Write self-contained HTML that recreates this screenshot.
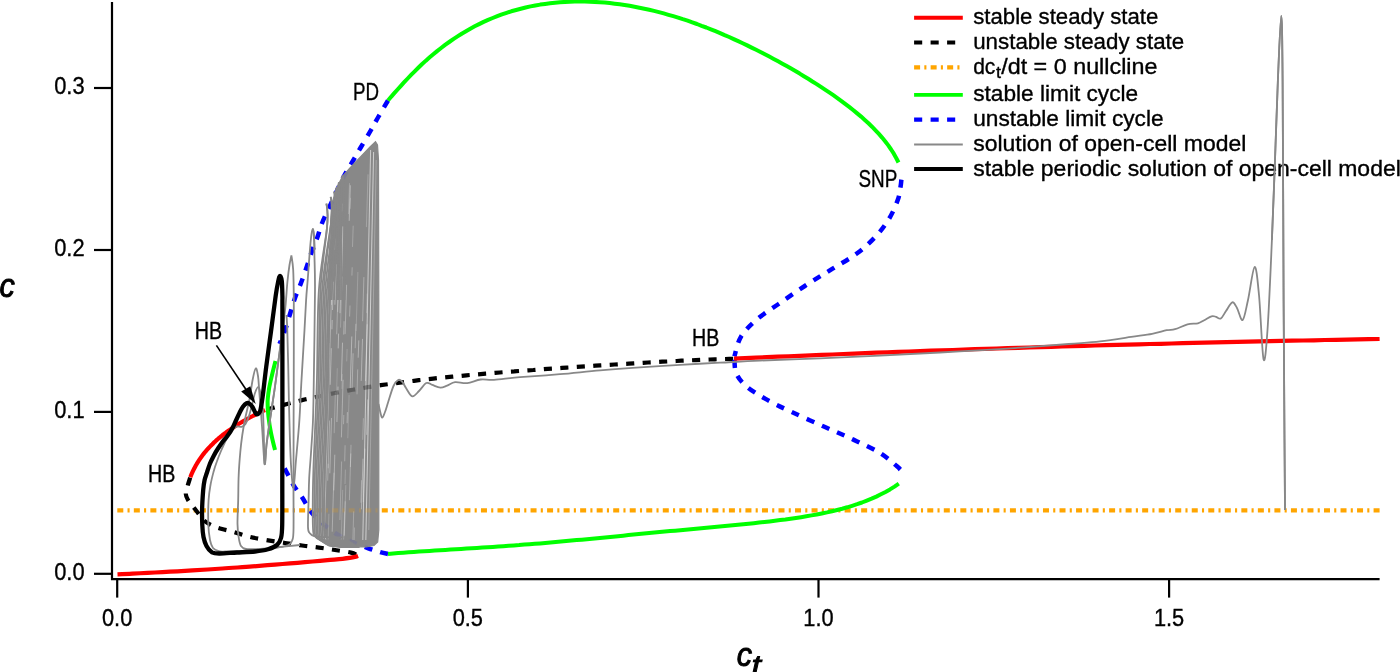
<!DOCTYPE html>
<html><head><meta charset="utf-8"><style>
html,body{margin:0;padding:0;background:#fff;width:1400px;height:672px;overflow:hidden;font-family:"Liberation Sans",sans-serif}
svg{display:block;will-change:transform}
</style></head><body>
<svg width="1400" height="672" viewBox="0 0 1400 672">
<rect width="1400" height="672" fill="#fff"/>
<path d="M117.3,510.4 L1380,510.4" stroke="#ffa500" stroke-width="4.3" fill="none" stroke-dasharray="6.0 4.22 2.1 4.21" stroke-linejoin="round" />
<path d="M190.2,477.6 C189.7,479.2 188.0,484.3 187.3,487.0 C186.6,489.7 185.7,491.8 185.8,494.0 C185.9,496.2 186.8,497.9 188.0,500.0 C189.2,502.1 191.3,504.3 193.0,506.5 C194.7,508.7 196.2,510.7 198.0,513.0 C199.8,515.3 201.7,518.4 204.0,520.5 C206.3,522.6 209.0,524.1 212.0,525.5 C215.0,526.9 218.3,527.9 222.0,529.0 C225.7,530.1 229.4,530.7 234.0,532.0 C238.6,533.3 244.2,535.5 249.5,536.8 C254.8,538.1 260.1,539.0 266.0,540.0 C271.9,541.0 279.0,542.1 285.0,543.0 C291.0,543.9 296.3,544.7 302.0,545.5 C307.7,546.3 313.5,546.9 319.0,547.6 C324.5,548.4 329.7,549.2 335.0,550.0 C340.3,550.8 347.2,551.7 351.0,552.6 C354.8,553.5 356.8,555.0 358.0,555.5" stroke="#000000" stroke-width="4.2" fill="none" stroke-linejoin="round" stroke-dasharray="8.1 8.4"/>
<path d="M264.0,410.5 L268.6,409.1 L273.2,407.8 L277.8,406.5 L282.4,405.2 L287.1,404.0 L291.7,402.8 L296.3,401.6 L301.0,400.4 L305.6,399.3 L310.3,398.3 L315.0,397.2 L319.6,396.2 L324.3,395.2 L329.0,394.2 L333.7,393.3 L338.4,392.4 L343.1,391.5 L347.8,390.6 L352.5,389.8 L357.2,389.0 L361.9,388.2 L366.6,387.4 L371.4,386.6 L376.1,385.9 L380.8,385.2 L385.6,384.5 L390.3,383.9 L395.0,383.2 L399.8,382.6 L404.5,382.0 L409.3,381.4 L414.0,380.8 L418.8,380.2 L423.5,379.7 L428.3,379.1 L433.1,378.6 L437.8,378.1 L442.6,377.6 L447.3,377.1 L452.1,376.7 L456.9,376.2 L461.6,375.8 L466.4,375.3 L471.2,374.9 L476.0,374.5 L480.7,374.1 L485.5,373.6 L490.3,373.3 L495.0,372.9 L499.8,372.5 L504.6,372.1 L509.4,371.7 L514.2,371.4 L518.9,371.0 L523.7,370.6 L528.5,370.3 L533.3,370.0 L538.0,369.6 L542.8,369.3 L547.6,368.9 L552.4,368.6 L557.1,368.3 L561.9,367.9 L566.7,367.6 L571.5,367.3 L576.3,367.0 L581.0,366.7 L585.8,366.4 L590.6,366.1 L595.4,365.7 L600.1,365.4 L604.9,365.1 L609.7,364.8 L614.5,364.5 L619.2,364.2 L624.0,363.9 L628.8,363.7 L633.6,363.4 L638.3,363.1 L643.1,362.8 L647.9,362.5 L652.7,362.3 L657.5,362.0 L662.2,361.7 L667.0,361.5 L671.8,361.2 L676.6,361.0 L681.3,360.7 L686.1,360.5 L690.9,360.3 L695.7,360.1 L700.5,359.9 L705.3,359.7 L710.0,359.5 L714.8,359.3 L719.6,359.2 L724.4,359.0 L729.2,358.9 L734.0,358.8" stroke="#000000" stroke-width="4.2" fill="none" stroke-linejoin="round" stroke-dasharray="8.1 8.4" stroke-dashoffset="-3"/>
<path d="M901.4,179.7 C901.2,180.9 901.1,183.7 900.5,187.0 C899.9,190.3 899.8,194.2 898.0,199.3 C896.2,204.4 893.4,211.3 889.9,217.3 C886.4,223.3 882.3,229.3 876.8,235.3 C871.3,241.3 864.7,247.6 857.1,253.3 C849.5,259.0 839.7,264.2 831.0,269.7 C822.3,275.1 813.5,280.3 804.8,286.0 C796.1,291.7 786.8,298.3 778.6,304.0 C770.4,309.7 762.0,314.9 755.7,320.4 C749.4,325.9 744.5,330.8 740.9,336.8 C737.3,342.8 735.5,353.1 734.4,356.4" stroke="#0000ff" stroke-width="4.5" fill="none" stroke-linejoin="round" stroke-dasharray="8.1 8.4"/>
<path d="M900.3,469.6 C899.8,469.1 900.4,469.1 897.0,466.3 C893.6,463.5 887.2,457.4 880.0,453.0 C872.8,448.6 863.2,444.3 853.9,439.9 C844.6,435.5 834.8,431.4 824.4,426.8 C814.0,422.2 801.5,416.6 791.7,412.0 C781.9,407.4 773.1,403.3 765.5,398.9 C757.9,394.5 750.7,390.2 745.8,385.8 C740.9,381.4 737.9,377.6 736.0,372.7 C734.1,367.8 734.7,359.1 734.4,356.4" stroke="#0000ff" stroke-width="4.5" fill="none" stroke-linejoin="round" stroke-dasharray="8.1 8.4"/>
<path d="M388.0,100.5 C386.3,103.3 380.8,112.6 378.0,117.5 C375.2,122.4 373.9,124.9 371.0,130.0 C368.1,135.1 363.5,142.7 360.4,148.0 C357.3,153.3 355.0,157.4 352.3,162.0 C349.6,166.6 347.2,170.0 344.3,175.5 C341.4,181.0 338.6,187.2 335.0,195.0 C331.4,202.8 325.4,215.0 322.5,222.0 C319.6,229.0 319.3,231.9 317.5,237.0 C315.7,242.1 313.4,247.2 311.5,252.5 C309.6,257.8 307.8,263.9 306.0,269.0 C304.2,274.1 302.8,278.2 301.0,283.0 C299.2,287.8 296.8,292.8 295.0,298.0 C293.2,303.2 291.7,308.6 290.0,314.0 C288.3,319.4 286.8,325.5 285.0,330.5 C283.2,335.5 280.4,341.8 279.5,344.0" stroke="#0000ff" stroke-width="4.5" fill="none" stroke-linejoin="round" stroke-dasharray="8.1 8.4"/>
<path d="M388.0,554.0 C386.7,553.7 383.3,553.0 380.0,552.0 C376.7,551.0 373.3,550.1 368.3,548.3 C363.3,546.5 355.6,543.5 350.0,541.0 C344.4,538.5 339.6,536.0 335.0,533.0 C330.4,530.0 326.5,526.8 322.5,523.3 C318.5,519.8 314.3,516.1 311.0,511.9 C307.7,507.7 305.6,502.8 302.7,498.3 C299.8,493.8 296.2,489.7 293.3,484.8 C290.4,479.9 287.1,473.0 285.0,469.0 C282.9,465.0 281.7,462.3 281.0,461.0" stroke="#0000ff" stroke-width="4.5" fill="none" stroke-linejoin="round" stroke-dasharray="8.1 8.4"/>
<path d="M117.5,574.3 C120.0,574.2 127.5,573.9 132.5,573.6 C137.5,573.4 142.5,573.1 147.5,572.9 C152.5,572.6 157.5,572.4 162.5,572.1 C167.5,571.8 172.5,571.6 177.5,571.3 C182.5,571.0 187.5,570.7 192.5,570.4 C197.5,570.1 202.5,569.8 207.5,569.5 C212.5,569.2 217.5,568.8 222.5,568.5 C227.5,568.1 232.5,567.8 237.5,567.5 C242.5,567.1 247.5,566.7 252.5,566.4 C257.5,566.0 262.5,565.6 267.5,565.2 C272.5,564.8 277.5,564.4 282.5,564.0 C287.5,563.6 292.5,563.2 297.5,562.8 C302.5,562.4 307.5,561.9 312.5,561.5 C317.5,561.1 322.5,560.6 327.5,560.2 C332.5,559.7 337.9,559.3 342.5,558.8 C347.1,558.2 352.4,557.4 355.0,556.9 C357.6,556.4 357.5,556.0 358.0,555.8" stroke="#ff0000" stroke-width="4.2" fill="none" stroke-linejoin="round"/>
<path d="M190.3,477.2 L191.1,475.2 L192.0,473.2 L192.9,471.2 L193.8,469.3 L194.8,467.4 L195.8,465.6 L196.9,463.7 L198.0,461.9 L199.1,460.2 L200.3,458.4 L201.5,456.7 L202.7,455.1 L204.0,453.4 L205.3,451.8 L206.7,450.2 L208.0,448.7 L209.5,447.1 L210.9,445.6 L212.4,444.2 L213.8,442.7 L215.4,441.3 L216.9,439.9 L218.5,438.5 L220.1,437.2 L221.7,435.8 L223.3,434.5 L225.0,433.3 L226.7,432.0 L228.4,430.8 L230.1,429.6 L231.8,428.4 L233.6,427.2 L235.4,426.0 L237.1,424.9 L238.9,423.8 L240.7,422.7 L242.6,421.6 L244.4,420.6 L246.2,419.5 L248.1,418.5 L249.9,417.5 L251.8,416.5 L253.7,415.5 L255.6,414.6 L257.4,413.6 L259.3,412.7 L261.2,411.8 L263.1,410.9 L265.0,410.0" stroke="#ff0000" stroke-width="4.2" fill="none" stroke-linejoin="round"/>
<path d="M734.0,358.7 L744.9,358.2 L755.9,357.7 L766.8,357.2 L777.7,356.7 L788.7,356.3 L799.6,355.8 L810.6,355.4 L821.5,354.9 L832.4,354.5 L843.4,354.0 L854.3,353.6 L865.3,353.2 L876.2,352.7 L887.1,352.3 L898.1,351.9 L909.0,351.5 L920.0,351.1 L930.9,350.7 L941.8,350.3 L952.8,350.0 L963.7,349.6 L974.7,349.2 L985.6,348.9 L996.5,348.5 L1007.5,348.1 L1018.4,347.8 L1029.4,347.5 L1040.3,347.1 L1051.3,346.8 L1062.2,346.5 L1073.1,346.1 L1084.1,345.8 L1095.0,345.5 L1106.0,345.2 L1116.9,344.9 L1127.9,344.6 L1138.8,344.3 L1149.8,344.0 L1160.7,343.8 L1171.6,343.5 L1182.6,343.2 L1193.5,342.9 L1204.5,342.7 L1215.4,342.4 L1226.4,342.2 L1237.3,341.9 L1248.3,341.7 L1259.2,341.4 L1270.1,341.2 L1281.1,340.9 L1292.0,340.7 L1303.0,340.5 L1313.9,340.3 L1324.9,340.0 L1335.8,339.8 L1346.8,339.6 L1357.7,339.4 L1368.7,339.2 L1379.6,339.0" stroke="#ff0000" stroke-width="4.2" fill="none" stroke-linejoin="round"/>
<path d="M388.0,100.5 L391.1,96.8 L394.3,93.2 L397.6,89.5 L400.9,85.8 L404.2,82.2 L407.7,78.5 L411.1,74.9 L414.7,71.3 L418.3,67.8 L421.9,64.3 L425.6,60.9 L429.4,57.6 L433.3,54.3 L437.1,51.1 L441.1,48.0 L445.1,44.9 L449.2,42.0 L453.3,39.1 L457.5,36.4 L461.7,33.7 L466.0,31.2 L470.3,28.7 L474.7,26.3 L479.1,24.1 L483.6,21.9 L488.1,19.9 L492.7,18.0 L497.3,16.2 L501.9,14.4 L506.6,12.8 L511.3,11.3 L516.1,10.0 L520.8,8.7 L525.6,7.5 L530.5,6.4 L535.3,5.5 L540.2,4.6 L545.1,3.9 L550.0,3.3 L555.0,2.7 L559.9,2.3 L564.9,1.9 L569.9,1.7 L574.8,1.6 L579.8,1.5 L584.8,1.5 L589.8,1.7 L594.8,1.9 L599.8,2.2 L604.8,2.6 L609.7,3.1 L614.7,3.7 L619.7,4.3 L624.6,5.0 L629.6,5.8 L634.5,6.7 L639.4,7.7 L644.3,8.7 L649.2,9.8 L654.0,10.9 L658.9,12.1 L663.7,13.4 L668.5,14.8 L673.3,16.2 L678.1,17.6 L682.8,19.2 L687.6,20.7 L692.3,22.4 L697.0,24.0 L701.6,25.8 L706.3,27.5 L710.9,29.3 L715.5,31.2 L720.1,33.1 L724.6,35.1 L729.2,37.0 L733.7,39.1 L738.2,41.1 L742.7,43.2 L747.2,45.4 L751.6,47.6 L756.1,49.8 L760.5,52.0 L764.9,54.3 L769.3,56.6 L773.7,58.9 L778.1,61.3 L782.4,63.7 L786.7,66.1 L791.1,68.6 L795.4,71.1 L799.7,73.6 L803.9,76.2 L808.2,78.8 L812.4,81.5 L816.7,84.1 L820.9,86.9 L825.0,89.6 L829.2,92.4 L833.3,95.2 L837.4,98.1 L841.5,101.1 L845.5,104.1 L849.5,107.1 L853.4,110.2 L857.2,113.4 L861.1,116.6 L864.8,119.9 L868.5,123.3 L872.0,126.7 L875.5,130.3 L878.9,133.9 L882.1,137.6 L885.3,141.5 L888.3,145.4 L891.1,149.5 L893.8,153.7 L896.2,158.0 L898.5,162.5" stroke="#00ff00" stroke-width="4" fill="none" stroke-linejoin="round"/>
<path d="M388.0,554.0 L393.1,553.5 L398.2,553.1 L403.4,552.7 L408.6,552.3 L413.8,551.9 L419.0,551.5 L424.2,551.2 L429.5,550.9 L434.7,550.5 L440.0,550.2 L445.3,549.9 L450.5,549.6 L455.8,549.3 L461.1,548.9 L466.4,548.6 L471.7,548.3 L476.9,548.0 L482.2,547.6 L487.5,547.3 L492.8,546.9 L498.1,546.6 L503.3,546.2 L508.6,545.8 L513.9,545.4 L519.1,545.1 L524.4,544.6 L529.6,544.2 L534.8,543.8 L540.1,543.4 L545.3,542.9 L550.5,542.5 L555.7,542.0 L560.9,541.6 L566.2,541.1 L571.4,540.6 L576.6,540.1 L581.8,539.7 L586.9,539.2 L592.1,538.7 L597.3,538.2 L602.5,537.7 L607.7,537.2 L612.9,536.7 L618.1,536.2 L623.2,535.7 L628.4,535.1 L633.6,534.6 L638.8,534.1 L644.0,533.6 L649.2,533.1 L654.4,532.6 L659.6,532.1 L664.8,531.6 L670.0,531.1 L675.2,530.7 L680.4,530.2 L685.6,529.7 L690.8,529.2 L696.1,528.7 L701.3,528.2 L706.5,527.7 L711.8,527.2 L717.0,526.8 L722.3,526.3 L727.5,525.8 L732.8,525.3 L738.0,524.8 L743.3,524.2 L748.6,523.7 L753.8,523.2 L759.1,522.6 L764.4,522.0 L769.6,521.4 L774.9,520.8 L780.2,520.1 L785.4,519.5 L790.6,518.7 L795.9,518.0 L801.1,517.2 L806.3,516.3 L811.5,515.4 L816.7,514.5 L821.8,513.5 L827.0,512.4 L832.1,511.2 L837.1,510.0 L842.2,508.7 L847.2,507.3 L852.1,505.8 L857.1,504.2 L862.0,502.5 L866.8,500.6 L871.6,498.7 L876.3,496.6 L880.9,494.3 L885.5,491.9 L890.0,489.4 L894.5,486.6 L898.8,483.7" stroke="#00ff00" stroke-width="4" fill="none" stroke-linejoin="round"/>
<path d="M275.5,361.0 C274.9,363.3 273.1,370.3 272.0,375.0 C270.9,379.7 269.7,384.5 269.0,389.0 C268.3,393.5 267.7,397.3 267.6,402.0 C267.5,406.7 267.9,411.8 268.5,417.0 C269.1,422.2 269.9,427.5 271.0,433.0 C272.1,438.5 274.3,447.2 275.0,450.0" stroke="#00ff00" stroke-width="4" fill="none" stroke-linejoin="round"/>
<path d="M336.6,187.9 L342.5,176.4 L350.0,168.0 L360.0,157.5 L370.0,147.0 L375.5,141.6 L377.5,145.0 L378.5,160.0 L378.8,300.0 L378.8,530.0 L377.7,542.0 L374.0,545.5 L366.0,547.0 L350.0,546.8 L338.0,546.3 L330.0,544.0 L326.0,538.0 L324.2,530.0 L324.0,500.0 L324.5,470.0 L325.2,430.0 L326.0,380.0 L327.5,330.0 L328.5,290.0 L330.0,240.0 L331.5,205.0 Z" fill="#888888" stroke="#888888" stroke-width="1.2"/>
<line x1="370.6" y1="150" x2="362.8" y2="540" stroke="#d8d8d8" stroke-width="1" opacity="0.85"/><line x1="373.6" y1="152" x2="365.84000000000003" y2="540" stroke="#d8d8d8" stroke-width="1" opacity="0.9"/><line x1="376.2" y1="160" x2="368.8" y2="530" stroke="#d8d8d8" stroke-width="1" opacity="0.35"/><line x1="320.4" y1="300" x2="313.7" y2="525" stroke="#ffffff" stroke-width="0.8" opacity="0.45"/><line x1="323.2" y1="300" x2="316.5" y2="525" stroke="#ffffff" stroke-width="0.8" opacity="0.45"/><line x1="325.9" y1="300" x2="319.2" y2="525" stroke="#ffffff" stroke-width="0.8" opacity="0.45"/><line x1="328.7" y1="300" x2="322.0" y2="525" stroke="#ffffff" stroke-width="0.8" opacity="0.45"/><line x1="331.3" y1="300" x2="324.6" y2="525" stroke="#ffffff" stroke-width="0.8" opacity="0.45"/><line x1="341.3" y1="238.6" x2="340.0" y2="280.4" stroke="#e0e0e0" stroke-width="0.9" opacity="0.28"/><line x1="350.0" y1="305.5" x2="349.6" y2="316.5" stroke="#e0e0e0" stroke-width="0.9" opacity="0.43"/><line x1="329.5" y1="343.1" x2="329.2" y2="354.7" stroke="#e0e0e0" stroke-width="0.9" opacity="0.28"/><line x1="345.4" y1="469.6" x2="345.0" y2="484.0" stroke="#e0e0e0" stroke-width="0.9" opacity="0.33"/><line x1="353.7" y1="511.3" x2="352.9" y2="540.0" stroke="#e0e0e0" stroke-width="0.9" opacity="0.39"/><line x1="368.0" y1="174.4" x2="366.4" y2="227.1" stroke="#e0e0e0" stroke-width="0.9" opacity="0.35"/><line x1="333.9" y1="238.9" x2="333.2" y2="262.9" stroke="#e0e0e0" stroke-width="0.9" opacity="0.54"/><line x1="335.4" y1="391.9" x2="334.2" y2="433.2" stroke="#e0e0e0" stroke-width="0.9" opacity="0.38"/><line x1="350.5" y1="197.8" x2="350.1" y2="208.9" stroke="#e0e0e0" stroke-width="0.9" opacity="0.32"/><line x1="355.9" y1="323.8" x2="355.2" y2="348.2" stroke="#e0e0e0" stroke-width="0.9" opacity="0.45"/><line x1="346.6" y1="284.8" x2="345.1" y2="334.1" stroke="#e0e0e0" stroke-width="0.9" opacity="0.49"/><line x1="338.0" y1="386.6" x2="336.9" y2="422.0" stroke="#e0e0e0" stroke-width="0.9" opacity="0.56"/><line x1="357.9" y1="272.0" x2="356.1" y2="331.0" stroke="#e0e0e0" stroke-width="0.9" opacity="0.29"/><line x1="345.1" y1="445.3" x2="344.7" y2="461.3" stroke="#e0e0e0" stroke-width="0.9" opacity="0.42"/><line x1="329.6" y1="420.5" x2="328.2" y2="468.3" stroke="#e0e0e0" stroke-width="0.9" opacity="0.45"/><line x1="363.9" y1="277.1" x2="362.6" y2="321.2" stroke="#e0e0e0" stroke-width="0.9" opacity="0.46"/><line x1="351.8" y1="336.5" x2="350.2" y2="388.2" stroke="#e0e0e0" stroke-width="0.9" opacity="0.58"/><line x1="347.4" y1="412.1" x2="347.1" y2="423.2" stroke="#e0e0e0" stroke-width="0.9" opacity="0.50"/><line x1="354.5" y1="527.5" x2="354.2" y2="540.0" stroke="#e0e0e0" stroke-width="0.9" opacity="0.35"/><line x1="343.8" y1="415.0" x2="343.5" y2="424.2" stroke="#e0e0e0" stroke-width="0.9" opacity="0.41"/><line x1="334.9" y1="238.6" x2="334.6" y2="249.7" stroke="#e0e0e0" stroke-width="0.9" opacity="0.52"/><line x1="333.3" y1="281.7" x2="332.5" y2="310.0" stroke="#e0e0e0" stroke-width="0.9" opacity="0.55"/><line x1="331.3" y1="348.2" x2="330.2" y2="384.8" stroke="#e0e0e0" stroke-width="0.9" opacity="0.56"/><line x1="361.6" y1="480.2" x2="360.9" y2="502.7" stroke="#e0e0e0" stroke-width="0.9" opacity="0.40"/><line x1="342.7" y1="489.9" x2="341.2" y2="540.0" stroke="#e0e0e0" stroke-width="0.9" opacity="0.30"/><line x1="335.2" y1="276.5" x2="334.6" y2="296.7" stroke="#e0e0e0" stroke-width="0.9" opacity="0.42"/><line x1="352.2" y1="267.3" x2="351.9" y2="275.6" stroke="#e0e0e0" stroke-width="0.9" opacity="0.40"/><line x1="343.1" y1="379.8" x2="341.4" y2="437.4" stroke="#e0e0e0" stroke-width="0.9" opacity="0.49"/><line x1="349.1" y1="395.0" x2="347.8" y2="438.2" stroke="#e0e0e0" stroke-width="0.9" opacity="0.27"/><line x1="364.9" y1="448.7" x2="363.3" y2="502.1" stroke="#e0e0e0" stroke-width="0.9" opacity="0.53"/><line x1="344.1" y1="321.2" x2="343.7" y2="334.6" stroke="#e0e0e0" stroke-width="0.9" opacity="0.47"/><line x1="330.6" y1="222.2" x2="330.0" y2="241.1" stroke="#e0e0e0" stroke-width="0.9" opacity="0.31"/><line x1="341.9" y1="203.6" x2="341.7" y2="211.6" stroke="#e0e0e0" stroke-width="0.9" opacity="0.30"/><line x1="332.2" y1="320.0" x2="331.9" y2="329.3" stroke="#e0e0e0" stroke-width="0.9" opacity="0.56"/><line x1="353.2" y1="225.7" x2="352.5" y2="246.9" stroke="#e0e0e0" stroke-width="0.9" opacity="0.37"/><line x1="342.9" y1="226.4" x2="341.4" y2="278.6" stroke="#e0e0e0" stroke-width="0.9" opacity="0.60"/><line x1="347.1" y1="349.0" x2="346.7" y2="361.4" stroke="#e0e0e0" stroke-width="0.9" opacity="0.29"/><line x1="342.0" y1="276.5" x2="340.5" y2="327.6" stroke="#e0e0e0" stroke-width="0.9" opacity="0.31"/><line x1="328.9" y1="513.8" x2="328.2" y2="540.0" stroke="#e0e0e0" stroke-width="0.9" opacity="0.30"/><line x1="350.3" y1="185.3" x2="349.2" y2="220.8" stroke="#e0e0e0" stroke-width="0.9" opacity="0.59"/><line x1="363.4" y1="418.2" x2="362.7" y2="439.8" stroke="#e0e0e0" stroke-width="0.9" opacity="0.38"/><line x1="334.8" y1="454.7" x2="333.8" y2="490.4" stroke="#e0e0e0" stroke-width="0.9" opacity="0.52"/><line x1="341.5" y1="263.0" x2="340.0" y2="313.2" stroke="#e0e0e0" stroke-width="0.9" opacity="0.59"/><line x1="363.0" y1="458.7" x2="361.4" y2="509.3" stroke="#e0e0e0" stroke-width="0.9" opacity="0.51"/><line x1="337.3" y1="368.2" x2="336.5" y2="394.7" stroke="#e0e0e0" stroke-width="0.9" opacity="0.26"/><line x1="329.1" y1="292.2" x2="328.5" y2="313.7" stroke="#e0e0e0" stroke-width="0.9" opacity="0.49"/><line x1="367.2" y1="324.3" x2="365.5" y2="381.1" stroke="#e0e0e0" stroke-width="0.9" opacity="0.60"/><line x1="367.2" y1="293.6" x2="366.6" y2="313.1" stroke="#e0e0e0" stroke-width="0.9" opacity="0.33"/><line x1="336.1" y1="264.3" x2="334.9" y2="304.7" stroke="#e0e0e0" stroke-width="0.9" opacity="0.57"/><line x1="362.5" y1="338.9" x2="361.2" y2="380.9" stroke="#e0e0e0" stroke-width="0.9" opacity="0.53"/><line x1="331.5" y1="418.0" x2="329.8" y2="473.3" stroke="#e0e0e0" stroke-width="0.9" opacity="0.52"/><line x1="358.8" y1="340.4" x2="358.2" y2="357.7" stroke="#e0e0e0" stroke-width="0.9" opacity="0.53"/><line x1="341.6" y1="461.5" x2="339.9" y2="520.0" stroke="#e0e0e0" stroke-width="0.9" opacity="0.39"/><line x1="344.5" y1="511.5" x2="343.6" y2="540.0" stroke="#e0e0e0" stroke-width="0.9" opacity="0.31"/><line x1="333.2" y1="249.9" x2="331.6" y2="304.9" stroke="#e0e0e0" stroke-width="0.9" opacity="0.53"/><line x1="334.0" y1="472.7" x2="332.2" y2="531.7" stroke="#e0e0e0" stroke-width="0.9" opacity="0.48"/><line x1="342.4" y1="374.1" x2="341.9" y2="388.9" stroke="#e0e0e0" stroke-width="0.9" opacity="0.25"/><line x1="367.8" y1="399.4" x2="366.7" y2="434.8" stroke="#e0e0e0" stroke-width="0.9" opacity="0.58"/><line x1="345.8" y1="485.2" x2="344.3" y2="536.2" stroke="#e0e0e0" stroke-width="0.9" opacity="0.32"/><line x1="338.3" y1="291.4" x2="337.7" y2="311.9" stroke="#e0e0e0" stroke-width="0.9" opacity="0.46"/><line x1="338.6" y1="333.6" x2="338.2" y2="348.4" stroke="#e0e0e0" stroke-width="0.9" opacity="0.57"/><line x1="342.5" y1="342.7" x2="341.4" y2="381.1" stroke="#e0e0e0" stroke-width="0.9" opacity="0.57"/><line x1="345.2" y1="501.3" x2="344.2" y2="535.4" stroke="#e0e0e0" stroke-width="0.9" opacity="0.44"/><line x1="349.5" y1="183.2" x2="348.5" y2="214.1" stroke="#e0e0e0" stroke-width="0.9" opacity="0.31"/><line x1="328.2" y1="463.7" x2="327.7" y2="480.7" stroke="#e0e0e0" stroke-width="0.9" opacity="0.42"/><line x1="357.7" y1="369.4" x2="357.0" y2="394.3" stroke="#e0e0e0" stroke-width="0.9" opacity="0.43"/><line x1="350.8" y1="453.5" x2="350.4" y2="467.0" stroke="#e0e0e0" stroke-width="0.9" opacity="0.45"/><line x1="338.2" y1="286.2" x2="336.7" y2="334.3" stroke="#e0e0e0" stroke-width="0.9" opacity="0.43"/><line x1="351.0" y1="444.8" x2="349.4" y2="500.2" stroke="#e0e0e0" stroke-width="0.9" opacity="0.41"/><line x1="353.1" y1="353.3" x2="352.1" y2="388.0" stroke="#e0e0e0" stroke-width="0.9" opacity="0.49"/>
<clipPath id="bc"><path d="M336.6,187.9 L342.5,176.4 L350.0,168.0 L360.0,157.5 L370.0,147.0 L375.5,141.6 L377.5,145.0 L378.5,160.0 L378.8,300.0 L378.8,530.0 L377.7,542.0 L374.0,545.5 L366.0,547.0 L350.0,546.8 L338.0,546.3 L330.0,544.0 L326.0,538.0 L324.2,530.0 L324.0,500.0 L324.5,470.0 L325.2,430.0 L326.0,380.0 L327.5,330.0 L328.5,290.0 L330.0,240.0 L331.5,205.0 Z"/></clipPath>
<g clip-path="url(#bc)" opacity="0.2"><path d="M117.3,510.4 L1380,510.4" stroke="#ffa500" stroke-width="4.3" fill="none" stroke-dasharray="6.0 4.22 2.1 4.21" stroke-linejoin="round" /></g>
<g clip-path="url(#bc)" opacity="0.3"><path d="M264.0,410.5 L268.6,409.1 L273.2,407.8 L277.8,406.5 L282.4,405.2 L287.1,404.0 L291.7,402.8 L296.3,401.6 L301.0,400.4 L305.6,399.3 L310.3,398.3 L315.0,397.2 L319.6,396.2 L324.3,395.2 L329.0,394.2 L333.7,393.3 L338.4,392.4 L343.1,391.5 L347.8,390.6 L352.5,389.8 L357.2,389.0 L361.9,388.2 L366.6,387.4 L371.4,386.6 L376.1,385.9 L380.8,385.2 L385.6,384.5 L390.3,383.9 L395.0,383.2 L399.8,382.6 L404.5,382.0 L409.3,381.4 L414.0,380.8 L418.8,380.2 L423.5,379.7 L428.3,379.1 L433.1,378.6 L437.8,378.1 L442.6,377.6 L447.3,377.1 L452.1,376.7 L456.9,376.2 L461.6,375.8 L466.4,375.3 L471.2,374.9 L476.0,374.5 L480.7,374.1 L485.5,373.6 L490.3,373.3 L495.0,372.9 L499.8,372.5 L504.6,372.1 L509.4,371.7 L514.2,371.4 L518.9,371.0 L523.7,370.6 L528.5,370.3 L533.3,370.0 L538.0,369.6 L542.8,369.3 L547.6,368.9 L552.4,368.6 L557.1,368.3 L561.9,367.9 L566.7,367.6 L571.5,367.3 L576.3,367.0 L581.0,366.7 L585.8,366.4 L590.6,366.1 L595.4,365.7 L600.1,365.4 L604.9,365.1 L609.7,364.8 L614.5,364.5 L619.2,364.2 L624.0,363.9 L628.8,363.7 L633.6,363.4 L638.3,363.1 L643.1,362.8 L647.9,362.5 L652.7,362.3 L657.5,362.0 L662.2,361.7 L667.0,361.5 L671.8,361.2 L676.6,361.0 L681.3,360.7 L686.1,360.5 L690.9,360.3 L695.7,360.1 L700.5,359.9 L705.3,359.7 L710.0,359.5 L714.8,359.3 L719.6,359.2 L724.4,359.0 L729.2,358.9 L734.0,358.8" stroke="#000000" stroke-width="4.2" fill="none" stroke-linejoin="round" stroke-dasharray="8.1 8.4" stroke-dashoffset="-3"/></g>
<g clip-path="url(#bc)" opacity="0.08"><path d="M388.0,100.5 C386.3,103.3 380.8,112.6 378.0,117.5 C375.2,122.4 373.9,124.9 371.0,130.0 C368.1,135.1 363.5,142.7 360.4,148.0 C357.3,153.3 355.0,157.4 352.3,162.0 C349.6,166.6 347.2,170.0 344.3,175.5 C341.4,181.0 338.6,187.2 335.0,195.0 C331.4,202.8 325.4,215.0 322.5,222.0 C319.6,229.0 319.3,231.9 317.5,237.0 C315.7,242.1 313.4,247.2 311.5,252.5 C309.6,257.8 307.8,263.9 306.0,269.0 C304.2,274.1 302.8,278.2 301.0,283.0 C299.2,287.8 296.8,292.8 295.0,298.0 C293.2,303.2 291.7,308.6 290.0,314.0 C288.3,319.4 286.8,325.5 285.0,330.5 C283.2,335.5 280.4,341.8 279.5,344.0" stroke="#0000ff" stroke-width="4.5" fill="none" stroke-linejoin="round" stroke-dasharray="8.1 8.4"/><path d="M388.0,554.0 C386.7,553.7 383.3,553.0 380.0,552.0 C376.7,551.0 373.3,550.1 368.3,548.3 C363.3,546.5 355.6,543.5 350.0,541.0 C344.4,538.5 339.6,536.0 335.0,533.0 C330.4,530.0 326.5,526.8 322.5,523.3 C318.5,519.8 314.3,516.1 311.0,511.9 C307.7,507.7 305.6,502.8 302.7,498.3 C299.8,493.8 296.2,489.7 293.3,484.8 C290.4,479.9 287.1,473.0 285.0,469.0 C282.9,465.0 281.7,462.3 281.0,461.0" stroke="#0000ff" stroke-width="4.5" fill="none" stroke-linejoin="round" stroke-dasharray="8.1 8.4"/></g>
<path d="M378.5,404.0 C378.8,405.5 379.9,410.7 380.5,413.0 C381.1,415.3 381.6,417.9 382.3,417.7 C383.1,417.5 384.0,414.6 385.0,412.0 C386.0,409.4 386.8,406.3 388.2,402.0 C389.6,397.7 391.8,389.7 393.5,386.0 C395.2,382.3 396.8,380.8 398.2,380.0 C399.6,379.2 400.7,380.2 402.0,381.5 C403.3,382.8 404.3,385.5 406.0,388.0 C407.7,390.5 410.1,395.8 412.3,396.3 C414.5,396.8 416.7,393.2 419.0,391.0 C421.3,388.8 424.1,384.0 426.3,383.0 C428.5,382.0 430.0,384.1 432.3,384.9 C434.6,385.7 437.9,387.5 440.4,387.6 C442.9,387.7 444.7,386.5 447.1,385.6 C449.6,384.7 451.8,382.6 455.1,382.2 C458.5,381.8 462.9,383.6 467.2,383.1 C471.4,382.7 476.1,380.1 480.6,379.5 C485.1,378.9 487.4,380.2 494.0,379.8 C500.6,379.4 509.0,378.1 520.0,377.2 C531.0,376.3 546.7,375.3 560.0,374.2 C573.3,373.1 586.7,371.5 600.0,370.4 C613.3,369.2 626.7,368.2 640.0,367.3 C653.3,366.4 666.7,365.6 680.0,364.8 C693.3,364.0 706.7,363.4 720.0,362.7 C733.3,362.0 743.3,361.3 760.0,360.6 C776.7,359.9 800.0,359.1 820.0,358.3 C840.0,357.5 860.0,356.7 880.0,355.7 C900.0,354.7 920.0,353.6 940.0,352.5 C960.0,351.4 978.6,350.5 1000.0,349.1 C1021.4,347.7 1051.9,345.3 1068.6,344.0 C1085.3,342.7 1089.6,342.6 1100.0,341.4 C1110.4,340.2 1122.6,338.2 1131.2,336.9 C1139.9,335.6 1146.2,334.9 1152.1,333.8 C1158.0,332.6 1162.9,331.0 1166.7,330.2 C1170.5,329.4 1171.5,330.2 1175.0,329.2 C1178.5,328.2 1183.7,325.4 1187.5,324.4 C1191.3,323.4 1195.1,324.0 1197.9,323.3 C1200.7,322.6 1201.9,321.4 1204.2,320.2 C1206.5,319.0 1209.5,316.9 1211.5,316.3 C1213.5,315.7 1214.5,316.4 1216.0,316.8 C1217.5,317.2 1219.1,319.5 1220.8,318.5 C1222.5,317.5 1224.1,313.7 1226.0,311.0 C1227.9,308.3 1230.5,302.8 1232.3,302.3 C1234.1,301.8 1235.3,305.1 1237.0,308.0 C1238.7,310.9 1240.9,321.3 1242.7,320.0 C1244.5,318.7 1246.0,308.8 1248.0,300.0 C1250.0,291.2 1252.8,267.8 1254.6,267.0 C1256.4,266.2 1257.5,279.7 1259.0,295.0 C1260.5,310.3 1262.1,353.2 1263.5,359.0 C1264.9,364.8 1266.1,349.8 1267.5,330.0 C1268.9,310.2 1270.7,268.3 1271.9,240.0 C1273.2,211.7 1274.0,186.7 1275.0,160.0 C1276.0,133.3 1276.9,104.0 1277.9,80.0 C1278.9,56.0 1280.4,15.8 1281.2,15.8 C1282.0,15.8 1282.2,32.6 1282.6,80.0 C1283.0,127.4 1283.3,240.0 1283.6,300.0 C1283.9,360.0 1284.3,405.0 1284.5,440.0 C1284.7,475.0 1284.9,498.3 1285.0,510.0" stroke="#888888" stroke-width="1.8" fill="none" stroke-linejoin="round"/>
<path d="M291.4,255.4 C291.7,257.8 292.8,262.6 293.2,270.0 C293.6,277.4 293.7,286.7 293.8,300.0 C293.9,313.3 293.8,330.0 293.8,350.0 C293.8,370.0 293.7,397.2 293.6,420.0 C293.6,442.8 293.5,468.7 293.5,487.0 C293.5,505.3 293.7,521.2 293.5,530.0 C293.3,538.8 293.2,537.5 292.3,540.0 C291.4,542.5 291.5,543.6 288.3,545.0 C285.1,546.4 279.4,547.4 273.0,548.3 C266.6,549.2 256.3,550.0 250.0,550.5 C243.7,551.0 239.2,551.0 235.0,551.2 C230.8,551.4 227.7,551.5 225.0,551.5 C222.3,551.5 220.8,551.8 218.8,551.2 C216.8,550.6 214.5,549.9 213.0,548.0 C211.5,546.1 210.8,544.0 210.0,540.0 C209.2,536.0 208.5,530.7 208.3,524.0 C208.1,517.3 208.2,506.5 208.6,500.0 C209.0,493.5 209.7,489.7 210.5,485.0 C211.3,480.3 212.5,475.8 213.5,472.0 C214.5,468.2 215.4,465.5 216.7,462.0 C217.9,458.5 219.6,454.3 221.0,451.0 C222.4,447.7 223.7,444.8 225.0,442.0 C226.3,439.2 227.7,436.2 229.0,434.0 C230.3,431.8 231.7,429.8 233.0,428.5 C234.3,427.2 235.6,426.8 237.0,426.5 C238.4,426.2 240.2,427.2 241.6,426.8 C243.0,426.4 244.3,425.8 245.5,424.0 C246.7,422.2 247.9,419.2 249.0,416.0 C250.1,412.8 251.0,408.8 252.0,405.0 C253.0,401.2 253.9,396.0 255.0,393.0 C256.1,390.0 257.4,386.7 258.4,387.0 C259.4,387.3 260.3,391.4 261.0,395.0 C261.7,398.6 262.3,401.9 262.8,408.6 C263.3,415.3 263.5,425.8 263.8,435.0 C264.1,444.2 264.2,462.3 264.6,464.0 C265.1,465.7 265.8,451.3 266.5,445.0 C267.2,438.7 267.7,435.4 269.0,426.4 C270.3,417.3 272.9,401.1 274.4,390.7 C275.9,380.3 276.7,373.3 278.0,364.0 C279.3,354.7 280.8,344.5 282.0,335.0 C283.2,325.5 284.5,315.8 285.4,307.0 C286.3,298.2 286.7,289.0 287.4,282.0 C288.1,275.0 288.8,269.4 289.5,265.0 C290.2,260.6 291.1,257.0 291.4,255.4" stroke="#888888" stroke-width="1.8" fill="none" stroke-linejoin="round"/>
<path d="M300.0,545.0 C295.8,545.4 282.0,546.8 275.0,547.5 C268.0,548.2 262.8,548.8 258.0,549.0 C253.2,549.2 248.8,549.5 246.0,549.0 C243.2,548.5 242.2,547.8 241.0,546.0 C239.8,544.2 239.4,541.7 238.8,538.0 C238.2,534.3 237.6,530.3 237.5,524.0 C237.4,517.7 238.0,508.2 238.2,500.0 C238.4,491.8 238.3,483.0 238.7,475.0 C239.0,467.0 239.7,458.7 240.3,452.0 C240.9,445.3 241.5,440.4 242.3,435.0 C243.1,429.6 243.8,425.2 245.0,419.3 C246.2,413.4 248.1,406.2 249.4,399.6 C250.7,393.1 251.6,385.2 252.6,380.0 C253.6,374.8 254.8,369.1 255.7,368.4 C256.6,367.7 257.4,372.3 258.0,376.0 C258.6,379.7 258.6,382.3 259.2,390.7 C259.9,399.1 261.1,414.2 262.0,426.4 C262.9,438.6 263.9,460.9 264.6,464.0 C265.4,467.1 265.8,451.3 266.5,445.0 C267.2,438.7 267.7,435.4 269.0,426.4 C270.3,417.3 272.9,401.1 274.4,390.7 C275.9,380.3 276.9,372.4 278.0,364.0 C279.1,355.6 280.5,344.0 281.0,340.0" stroke="#888888" stroke-width="1.8" fill="none" stroke-linejoin="round"/>
<path d="M314.6,250.0 C314.5,247.3 314.2,237.5 313.9,234.0 C313.6,230.5 313.3,228.9 312.9,228.9 C312.5,228.9 312.1,229.7 311.5,234.0 C310.9,238.3 310.1,247.3 309.5,255.0 C308.9,262.7 308.3,272.5 307.7,280.0 C307.1,287.5 306.6,291.7 306.1,300.0 C305.6,308.3 305.3,316.7 304.5,330.0 C303.7,343.3 302.4,365.0 301.5,380.0 C300.6,395.0 300.3,406.7 299.4,420.0 C298.5,433.3 297.0,448.7 296.0,460.0 C295.0,471.3 294.3,486.9 293.5,487.7 C292.7,488.5 291.7,476.3 291.0,465.0 C290.3,453.7 289.8,435.8 289.4,420.0 C288.9,404.2 288.6,385.0 288.3,370.0 C288.0,355.0 287.6,339.2 287.3,330.0 C287.0,320.8 286.6,317.5 286.5,315.0" stroke="#888888" stroke-width="1.8" fill="none" stroke-linejoin="round"/>
<path d="M312.9,228.9 C313.1,230.6 313.8,234.7 314.1,238.9 C314.3,243.1 314.3,245.4 314.4,253.9 C314.5,262.4 315.1,269.0 315.0,290.0 C314.9,311.0 314.1,358.3 313.8,380.0 C313.5,401.7 313.4,408.3 313.0,420.0 C312.6,431.7 311.8,440.3 311.2,450.0 C310.6,459.7 309.6,469.7 309.2,478.0 C308.8,486.3 308.8,491.8 308.6,500.0 C308.4,508.2 307.8,521.7 308.0,527.2 C308.2,532.7 308.8,531.7 309.8,533.2 C310.9,534.7 311.9,535.5 314.3,536.2 C316.7,536.9 319.5,537.0 324.3,537.2 C329.1,537.4 340.1,537.4 343.3,537.4" stroke="#888888" stroke-width="1.8" fill="none" stroke-linejoin="round"/>
<path d="M326.4,203.6 C326.6,204.9 327.3,207.4 327.4,211.6 C327.5,215.8 328.3,215.5 326.9,228.6 C325.5,241.7 320.6,264.8 318.9,290.0 C317.2,315.2 317.6,355.0 316.9,380.0 C316.2,405.0 315.2,425.0 314.6,440.0 C314.0,455.0 313.7,460.0 313.4,470.0 C313.1,480.0 312.8,489.9 312.8,500.0 C312.7,510.1 312.7,524.3 313.1,530.3 C313.4,536.4 313.8,534.8 314.9,536.3 C315.9,537.8 317.0,538.7 319.4,539.3 C321.8,540.0 324.6,540.1 329.4,540.3 C334.2,540.5 345.2,540.5 348.4,540.5" stroke="#888888" stroke-width="1.8" fill="none" stroke-linejoin="round"/>
<path d="M326.4,203.6 C326.6,204.9 327.3,207.4 327.4,211.6 C327.5,215.8 328.0,215.5 326.9,228.6 C325.8,241.7 321.9,264.8 320.5,290.0 C319.1,315.2 319.2,355.0 318.5,380.0 C317.8,405.0 316.8,425.0 316.2,440.0 C315.6,455.0 315.3,460.0 315.0,470.0 C314.7,480.0 314.4,489.8 314.4,500.0 C314.3,510.2 314.3,525.1 314.7,531.3 C315.1,537.6 315.4,535.8 316.5,537.3 C317.6,538.8 318.6,539.7 321.0,540.3 C323.4,541.0 326.2,541.1 331.0,541.3 C335.8,541.5 346.8,541.5 350.0,541.5" stroke="#888888" stroke-width="1.8" fill="none" stroke-linejoin="round"/>
<path d="M330.7,196.8 C330.9,198.1 331.6,200.6 331.7,204.8 C331.8,209.0 332.8,207.6 331.2,221.8 C329.6,236.0 324.0,263.6 322.1,290.0 C320.2,316.4 320.8,355.0 320.1,380.0 C319.4,405.0 318.4,425.0 317.8,440.0 C317.2,455.0 316.9,460.0 316.6,470.0 C316.3,480.0 316.1,489.6 316.0,500.0 C315.9,510.4 315.9,525.9 316.3,532.3 C316.7,538.7 317.1,536.8 318.1,538.3 C319.2,539.8 320.2,540.7 322.6,541.3 C325.0,542.0 327.8,542.1 332.6,542.3 C337.4,542.5 348.4,542.5 351.6,542.5" stroke="#888888" stroke-width="1.8" fill="none" stroke-linejoin="round"/>
<path d="M330.7,196.8 C330.9,198.1 331.6,200.6 331.7,204.8 C331.8,209.0 332.5,207.6 331.2,221.8 C329.9,236.0 325.3,263.6 323.7,290.0 C322.1,316.4 322.4,355.0 321.7,380.0 C321.0,405.0 320.0,425.0 319.4,440.0 C318.8,455.0 318.5,460.0 318.2,470.0 C317.9,480.0 317.6,489.4 317.6,500.0 C317.5,510.6 317.5,526.8 317.9,533.3 C318.2,539.9 318.6,537.8 319.7,539.3 C320.8,540.8 321.8,541.7 324.2,542.3 C326.6,543.0 329.4,543.1 334.2,543.3 C339.0,543.5 350.0,543.5 353.2,543.5" stroke="#888888" stroke-width="1.8" fill="none" stroke-linejoin="round"/>
<path d="M333.9,191.4 C334.1,192.7 334.8,195.2 334.9,199.4 C335.0,203.6 336.0,201.3 334.4,216.4 C332.8,231.5 327.1,262.7 325.3,290.0 C323.5,317.3 324.0,355.0 323.3,380.0 C322.6,405.0 321.6,425.0 321.0,440.0 C320.4,455.0 320.1,460.0 319.8,470.0 C319.5,480.0 319.2,489.3 319.2,500.0 C319.1,510.7 319.1,527.6 319.5,534.3 C319.9,541.0 320.2,538.8 321.3,540.3 C322.4,541.8 323.4,542.6 325.8,543.3 C328.2,544.0 331.0,544.1 335.8,544.3 C340.6,544.5 351.6,544.5 354.8,544.5" stroke="#888888" stroke-width="1.8" fill="none" stroke-linejoin="round"/>
<path d="M336.6,187.9 C336.8,189.2 337.5,191.7 337.6,195.9 C337.7,200.1 338.9,197.2 337.1,212.9 C335.3,228.6 328.9,262.1 326.9,290.0 C324.9,317.9 325.6,355.0 324.9,380.0 C324.2,405.0 323.2,425.0 322.6,440.0 C322.0,455.0 321.7,460.0 321.4,470.0 C321.1,480.0 320.8,489.1 320.8,500.0 C320.7,510.9 320.7,528.4 321.1,535.3 C321.4,542.2 321.8,539.8 322.9,541.3 C323.9,542.8 325.0,543.6 327.4,544.3 C329.8,545.0 332.6,545.1 337.4,545.3 C342.2,545.5 353.2,545.5 356.4,545.5" stroke="#888888" stroke-width="1.8" fill="none" stroke-linejoin="round"/>
<path d="M336.6,187.9 C336.8,189.2 337.5,191.7 337.6,195.9 C337.7,200.1 338.6,197.2 337.1,212.9 C335.6,228.6 330.3,262.1 328.5,290.0 C326.7,317.9 327.2,355.0 326.5,380.0 C325.8,405.0 324.8,425.0 324.2,440.0 C323.6,455.0 323.3,460.0 323.0,470.0 C322.7,480.0 322.4,488.9 322.4,500.0 C322.3,511.1 322.3,529.2 322.7,536.3 C323.1,543.3 323.4,540.8 324.5,542.3 C325.6,543.8 326.6,544.6 329.0,545.3 C331.4,546.0 334.2,546.1 339.0,546.3 C343.8,546.5 354.8,546.5 358.0,546.5" stroke="#888888" stroke-width="1.8" fill="none" stroke-linejoin="round"/>
<path d="M336.6,187.9 C336.8,189.2 337.5,191.7 337.6,195.9 C337.7,200.1 338.4,197.2 337.1,212.9 C335.9,228.6 331.6,262.1 330.1,290.0 C328.6,317.9 328.8,355.0 328.1,380.0 C327.4,405.0 326.4,425.0 325.8,440.0 C325.2,455.0 324.9,460.0 324.6,470.0 C324.3,480.0 324.1,488.8 324.0,500.0 C323.9,511.2 323.9,529.8 324.3,537.0 C324.7,544.2 325.1,541.5 326.1,543.0 C327.2,544.5 328.2,545.3 330.6,546.0 C333.0,546.7 335.8,546.8 340.6,547.0 C345.4,547.2 356.4,547.2 359.6,547.2" stroke="#888888" stroke-width="1.8" fill="none" stroke-linejoin="round"/>
<path d="M331.6,300.0 C332.0,290.0 333.4,257.4 334.1,240.0 C334.8,222.7 335.4,204.6 335.8,195.9 C336.2,187.2 336.3,187.9 336.6,187.9 C336.9,187.9 337.3,187.2 337.6,195.9 C337.9,204.6 338.4,222.7 338.6,240.0 C338.8,257.4 338.6,290.0 338.6,300.0" stroke="#888888" stroke-width="1.8" fill="none" stroke-linejoin="round"/>
<path d="M334.0,300.0 C334.4,290.0 335.8,258.2 336.5,240.0 C337.2,221.8 337.8,200.5 338.2,191.0 C338.6,181.5 338.7,183.0 339.0,183.0 C339.3,183.0 339.7,181.5 340.0,191.0 C340.3,200.5 340.8,221.8 341.0,240.0 C341.2,258.2 341.0,290.0 341.0,300.0" stroke="#888888" stroke-width="1.8" fill="none" stroke-linejoin="round"/>
<path d="M337.5,300.0 C337.9,290.0 339.3,259.3 340.0,240.0 C340.7,220.7 341.3,195.0 341.7,184.4 C342.1,173.8 342.2,176.4 342.5,176.4 C342.8,176.4 343.2,173.8 343.5,184.4 C343.8,195.0 344.3,220.7 344.5,240.0 C344.7,259.3 344.5,290.0 344.5,300.0" stroke="#888888" stroke-width="1.8" fill="none" stroke-linejoin="round"/>
<path d="M282.4,300.0 C282.4,310.0 282.4,340.0 282.4,360.0 C282.4,380.0 282.4,400.0 282.4,420.0 C282.4,440.0 282.3,462.5 282.3,480.0 C282.3,497.5 282.4,515.3 282.2,525.0 C282.0,534.7 281.9,534.7 281.0,538.0 C280.1,541.3 279.2,543.1 277.0,545.0 C274.8,546.9 271.7,548.2 268.0,549.3 C264.3,550.4 260.2,551.0 255.0,551.5 C249.8,552.0 242.8,552.2 237.0,552.5 C231.2,552.8 224.2,553.5 220.0,553.5 C215.8,553.5 214.2,553.6 212.0,552.4 C209.8,551.1 207.9,548.6 206.5,546.0 C205.1,543.4 204.2,540.5 203.5,537.0 C202.8,533.5 202.5,529.5 202.3,525.0 C202.1,520.5 201.9,515.8 202.1,510.0 C202.2,504.2 202.8,495.0 203.2,490.0 C203.6,485.0 204.0,482.8 204.6,480.0 C205.2,477.2 205.9,475.8 206.8,473.0 C207.7,470.2 208.9,466.3 210.0,463.5 C211.1,460.7 212.2,458.7 213.5,456.2 C214.8,453.7 216.4,450.9 218.0,448.5 C219.6,446.1 221.3,443.5 222.8,441.5 C224.3,439.5 225.7,438.3 227.0,436.5 C228.3,434.7 229.8,432.6 230.9,430.8 C232.0,429.1 232.6,427.8 233.5,426.0 C234.4,424.2 235.2,422.2 236.2,420.0 C237.2,417.8 238.4,415.2 239.5,413.0 C240.6,410.8 241.7,408.3 242.9,406.7 C244.1,405.1 245.5,403.7 246.6,403.2 C247.7,402.7 248.6,403.2 249.5,403.8 C250.4,404.4 251.5,405.5 252.3,406.7 C253.1,407.9 253.8,409.8 254.5,411.0 C255.2,412.2 255.6,413.8 256.3,414.2 C257.0,414.6 257.8,414.1 258.5,413.5 C259.2,412.9 259.6,413.2 260.3,410.5 C261.0,407.8 261.6,404.2 262.6,397.0 C263.6,389.8 264.8,377.9 266.2,367.0 C267.6,356.1 269.4,343.3 271.0,331.4 C272.6,319.5 274.5,304.1 275.7,295.7 C276.9,287.3 277.6,284.3 278.3,281.0 C279.0,277.7 279.4,275.8 280.0,275.8 C280.6,275.8 281.4,277.7 281.8,281.0 C282.2,284.3 282.3,292.5 282.4,295.7 C282.5,298.9 282.4,299.3 282.4,300.0" stroke="#000000" stroke-width="4.3" fill="none" stroke-linejoin="round"/>
<line x1="216.4" y1="345.4" x2="247" y2="391" stroke="#000" stroke-width="1.6"/>
<path d="M241.2,391.6 L250.3,386.2 L255.7,404.1 Z" fill="#000"/>
<line x1="112" y1="2" x2="112" y2="580" stroke="#000" stroke-width="2.2"/>
<line x1="111" y1="579.2" x2="1379.6" y2="579.2" stroke="#000" stroke-width="2.2"/>
<line x1="94" y1="573.8" x2="112" y2="573.8" stroke="#000" stroke-width="2.2"/>
<line x1="94" y1="411.9" x2="112" y2="411.9" stroke="#000" stroke-width="2.2"/>
<line x1="94" y1="250.0" x2="112" y2="250.0" stroke="#000" stroke-width="2.2"/>
<line x1="94" y1="88.0" x2="112" y2="88.0" stroke="#000" stroke-width="2.2"/>
<line x1="117.2" y1="579" x2="117.2" y2="597.6" stroke="#000" stroke-width="2.2"/>
<line x1="467.9" y1="579" x2="467.9" y2="597.6" stroke="#000" stroke-width="2.2"/>
<line x1="818.5" y1="579" x2="818.5" y2="597.6" stroke="#000" stroke-width="2.2"/>
<line x1="1169.1" y1="579" x2="1169.1" y2="597.6" stroke="#000" stroke-width="2.2"/>
<text x="54.2" y="580.0999999999999" font-size="23" font-family="Liberation Sans, sans-serif" text-anchor="start" textLength="30.4" lengthAdjust="spacingAndGlyphs" stroke="#000" stroke-width="0.35" >0.0</text>
<text x="54.2" y="418.2" font-size="23" font-family="Liberation Sans, sans-serif" text-anchor="start" textLength="30.4" lengthAdjust="spacingAndGlyphs" stroke="#000" stroke-width="0.35" >0.1</text>
<text x="54.2" y="256.3" font-size="23" font-family="Liberation Sans, sans-serif" text-anchor="start" textLength="30.4" lengthAdjust="spacingAndGlyphs" stroke="#000" stroke-width="0.35" >0.2</text>
<text x="54.2" y="94.3" font-size="23" font-family="Liberation Sans, sans-serif" text-anchor="start" textLength="30.4" lengthAdjust="spacingAndGlyphs" stroke="#000" stroke-width="0.35" >0.3</text>
<text x="102.0" y="626.3" font-size="23" font-family="Liberation Sans, sans-serif" text-anchor="start" textLength="30.3" lengthAdjust="spacingAndGlyphs" stroke="#000" stroke-width="0.35" >0.0</text>
<text x="452.7" y="626.3" font-size="23" font-family="Liberation Sans, sans-serif" text-anchor="start" textLength="30.3" lengthAdjust="spacingAndGlyphs" stroke="#000" stroke-width="0.35" >0.5</text>
<text x="803.3" y="626.3" font-size="23" font-family="Liberation Sans, sans-serif" text-anchor="start" textLength="30.3" lengthAdjust="spacingAndGlyphs" stroke="#000" stroke-width="0.35" >1.0</text>
<text x="1153.8999999999999" y="626.3" font-size="23" font-family="Liberation Sans, sans-serif" text-anchor="start" textLength="30.3" lengthAdjust="spacingAndGlyphs" stroke="#000" stroke-width="0.35" >1.5</text>
<text x="-0.5" y="297.3" font-size="33.5" font-family="Liberation Sans, sans-serif" text-anchor="start" textLength="15.3" lengthAdjust="spacingAndGlyphs" stroke="#000" stroke-width="1.0" font-style="italic">c</text>
<text x="736.8" y="665.6" font-size="33.5" font-family="Liberation Sans, sans-serif" text-anchor="start" textLength="15.3" lengthAdjust="spacingAndGlyphs" stroke="#000" stroke-width="1.0" font-style="italic">c</text>
<text x="751.5" y="676" font-size="29" font-family="Liberation Sans, sans-serif" text-anchor="start" textLength="9.5" lengthAdjust="spacingAndGlyphs" stroke="#000" stroke-width="0.9" font-style="italic">t</text>
<text x="353.1" y="99.8" font-size="23" font-family="Liberation Sans, sans-serif" text-anchor="start" textLength="26" lengthAdjust="spacingAndGlyphs" stroke="#000" stroke-width="0.35" >PD</text>
<text x="858.5" y="186.6" font-size="23" font-family="Liberation Sans, sans-serif" text-anchor="start" textLength="38.8" lengthAdjust="spacingAndGlyphs" stroke="#000" stroke-width="0.35" >SNP</text>
<text x="194.8" y="338.8" font-size="23" font-family="Liberation Sans, sans-serif" text-anchor="start" textLength="27.3" lengthAdjust="spacingAndGlyphs" stroke="#000" stroke-width="0.35" >HB</text>
<text x="148" y="482" font-size="23" font-family="Liberation Sans, sans-serif" text-anchor="start" textLength="27.3" lengthAdjust="spacingAndGlyphs" stroke="#000" stroke-width="0.35" >HB</text>
<text x="692" y="346.2" font-size="23" font-family="Liberation Sans, sans-serif" text-anchor="start" textLength="27.3" lengthAdjust="spacingAndGlyphs" stroke="#000" stroke-width="0.35" >HB</text>
<line x1="914.1" y1="17.75" x2="962.8" y2="17.75" stroke="#ff0000" stroke-width="4.1"/>
<text x="973.2" y="24.25" font-size="22.3" font-family="Liberation Sans, sans-serif" text-anchor="start" textLength="185.1" lengthAdjust="spacingAndGlyphs" stroke="#000" stroke-width="0.35" >stable steady state</text>
<line x1="914.1" y1="42.5" x2="962.8" y2="42.5" stroke="#000000" stroke-width="4.2" stroke-dasharray="8.1 8.4"/>
<text x="973.2" y="49.0" font-size="22.3" font-family="Liberation Sans, sans-serif" text-anchor="start" textLength="211.0" lengthAdjust="spacingAndGlyphs" stroke="#000" stroke-width="0.35" >unstable steady state</text>
<line x1="914.1" y1="67.4" x2="962.8" y2="67.4" stroke="#ffa500" stroke-width="4.3" stroke-dasharray="6.0 4.22 2.1 4.21"/>
<line x1="914.1" y1="94.9" x2="962.8" y2="94.9" stroke="#00ff00" stroke-width="3.9"/>
<text x="973.2" y="101.4" font-size="22.3" font-family="Liberation Sans, sans-serif" text-anchor="start" textLength="165.0" lengthAdjust="spacingAndGlyphs" stroke="#000" stroke-width="0.35" >stable limit cycle</text>
<line x1="914.1" y1="119.7" x2="962.8" y2="119.7" stroke="#0000ff" stroke-width="4.2" stroke-dasharray="8.1 8.4"/>
<text x="973.2" y="126.2" font-size="22.3" font-family="Liberation Sans, sans-serif" text-anchor="start" textLength="190.4" lengthAdjust="spacingAndGlyphs" stroke="#000" stroke-width="0.35" >unstable limit cycle</text>
<line x1="914.1" y1="144.4" x2="962.8" y2="144.4" stroke="#888888" stroke-width="2"/>
<text x="973.2" y="150.9" font-size="22.3" font-family="Liberation Sans, sans-serif" text-anchor="start" textLength="273.1" lengthAdjust="spacingAndGlyphs" stroke="#000" stroke-width="0.35" >solution of open-cell model</text>
<line x1="914.1" y1="169.1" x2="962.8" y2="169.1" stroke="#000000" stroke-width="4"/>
<text x="973.2" y="175.6" font-size="22.3" font-family="Liberation Sans, sans-serif" text-anchor="start" textLength="427.6" lengthAdjust="spacingAndGlyphs" stroke="#000" stroke-width="0.35" >stable periodic solution of open-cell model</text>
<text x="973.2" y="73.8" font-size="22.3" font-family="Liberation Sans, sans-serif" text-anchor="start" textLength="22.2" lengthAdjust="spacingAndGlyphs" stroke="#000" stroke-width="0.35" >dc</text>
<text x="996.0" y="78.0" font-size="16" font-family="Liberation Sans, sans-serif" text-anchor="start" textLength="5.0" lengthAdjust="spacingAndGlyphs" stroke="#000" stroke-width="0.35" >t</text>
<text x="1001.2" y="73.8" font-size="22.3" font-family="Liberation Sans, sans-serif" text-anchor="start" textLength="156.3" lengthAdjust="spacingAndGlyphs" stroke="#000" stroke-width="0.35" >/dt = 0 nullcline</text>
<path d="M1271.9,240.0 C1272.4,226.7 1274.0,186.7 1275.0,160.0 C1276.0,133.3 1276.9,104.0 1277.9,80.0 C1278.9,56.0 1280.4,15.8 1281.2,15.8 C1282.0,15.8 1282.2,32.6 1282.6,80.0 C1283.0,127.4 1283.3,240.0 1283.6,300.0 C1283.9,360.0 1284.3,405.0 1284.5,440.0 C1284.7,475.0 1284.9,498.3 1285.0,510.0" stroke="#888888" stroke-width="1.8" fill="none" stroke-linejoin="round"/>
</svg>
</body></html>
